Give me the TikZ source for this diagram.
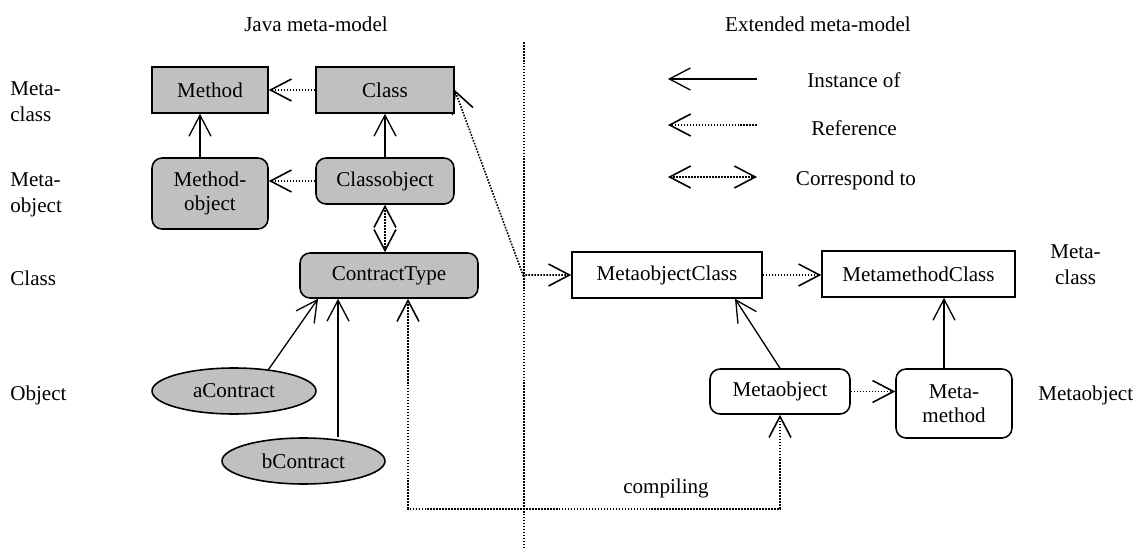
\documentclass[tikz,border=0pt]{standalone}
\usepackage{fontspec}
\setmainfont{Liberation Serif}
\usepackage{tikz}
\usetikzlibrary{arrows.meta,backgrounds,positioning,shapes.geometric}
\definecolor{boxgray}{RGB}{192,192,192}
\tikzset{%
	javabox/.style   = {draw, rectangle, fill=boxgray, line width=0.9pt, minimum height=0.92cm, inner sep=0pt, align=center},
	javaround/.style = {javabox, rounded corners=0.2cm},
	javaobj/.style   = {draw, ellipse, fill=boxgray, line width=0.9pt, minimum width=3.28cm, minimum height=0.92cm, inner sep=0pt},
	extbox/.style    = {draw, rectangle, fill=white, line width=0.9pt, minimum height=0.92cm, inner sep=0pt, align=center},
	extround/.style  = {extbox, rounded corners=0.2cm},
	rowlabel/.style  = {anchor=west, align=left, inner sep=0pt, font=\fontsize{12pt}{15pt}\selectfont},
	instof/.style    = {line width=0.75pt, ->, >={Straight Barb[length=4.2mm,width=4.4mm]}},
	refer/.style     = {instof, line width=0.9pt, dash pattern=on 0.9pt off 0.8pt},
	corresp/.style   = {refer, <->},
}

\begin{document}
\begin{tikzpicture}[x=0.02cm,y=-0.02cm,font=\fontsize{12pt}{14pt}\selectfont]
	\useasboundingbox (0,0) rectangle (1134,548);
	% titles and levels
	\node (javatitle) at (316,24) {Java meta-model};
	\node (exttitle) at (818,24) {Extended meta-model};
	\node[rowlabel] (lmc) at (10,102) {Meta-\\class};
	\node[rowlabel] (lmo) at (10,195) {Meta-\\object};
	\node[rowlabel] (lcl) at (10,278) {Class};
	\node[rowlabel] (lob) at (10,395) {Object};
	\node[rowlabel, align=center] (rmc) at (1050,265) {Meta-\\class};
	\node[rowlabel] (rmo) at (1038,395) {Metaobject};
	% java side
	\node[javabox, minimum width=2.32cm] (method) at (210,90) {Method};
	\node[javabox, minimum width=2.76cm] (cls) at (385,90) {Class};
	\node[javaround, minimum width=2.32cm, minimum height=1.42cm] (mobj) at (210,193.5) {Method-\\object};
	\node[javaround, minimum width=2.76cm] (cobj) at (385,181) {Classobject};
	\node[javaround, minimum width=3.56cm, minimum height=0.9cm] (ctype) at (389,275.5) {ContractType};
	\node[javaobj] (acon) at (234,391) {aContract};
	\node[javaobj, minimum width=3.26cm] (bcon) at (303.5,461) {bContract};
	% extended side
	\node[extbox, minimum width=3.8cm] (moc) at (667,275) {MetaobjectClass};
	\node[extbox, minimum width=3.86cm] (mmc) at (918.5,274) {MetamethodClass};
	\node[extround, minimum width=2.8cm, minimum height=0.9cm] (mo) at (780,391.5) {Metaobject};
	\node[extround, minimum width=2.32cm, minimum height=1.38cm] (mm) at (954,403.5) {Meta-\\method};
	\node (comp) at (666,488) {compiling};
	% legend
	\coordinate (insta) at (668,79);
	\coordinate (instb) at (757,79);
	\coordinate (refa) at (668,125);
	\coordinate (refb) at (757,125);
	\coordinate (cora) at (668,177);
	\coordinate (corb) at (757,177);
	\node (linst) at (854,80) {Instance of};
	\node (lref) at (854,128) {Reference};
	\node (lcor) at (856,180) {Correspond to};
	\draw[instof] (instb) -- (insta);
	\draw[refer] (refb) -- (refa);
	\draw[corresp] (cora) -- (corb);
	% separator
	\coordinate (septop) at (524,42);
	\coordinate (sepbot) at (524,548);
	\draw[line width=0.9pt, dash pattern=on 0.9pt off 0.8pt] (septop) -- (sepbot);
	% connectors
	\coordinate (atip) at ([xshift=-1.42cm]ctype.south);
	\coordinate (btip) at ([xshift=-1.02cm]ctype.south);
	\coordinate (ctip) at ([xshift=0.38cm]ctype.south);
	\coordinate (bend) at (523,275);
	\begin{scope}[on background layer]
		\draw[instof] ([xshift=-0.2cm]mobj.north) -- ([xshift=-0.2cm]method.south);
		\draw[instof] (cobj) -- (cls);
		\draw[refer] (cls) -- (method);
		\draw[refer] (cobj.west) -- (cobj.west -| mobj.east);
		\draw[corresp] (cobj.south) -- (cobj.south |- ctype.north);
		\draw[instof] (acon.32) -- (atip);
		\draw[instof] (btip |- bcon.north) -- (btip);
		\draw[corresp] (ctip) -- ++(0,210) -| (mo.south);
		\draw[corresp] (cls.east) -- (bend) -- (moc.west);
		\draw[refer] (moc.east) -- (moc.east -| mmc.west);
		\draw[instof] (mo.north) -- ([xshift=1.36cm]moc.south);
		\draw[refer] (mo.east) -- (mo.east -| mm.west);
		\draw[instof] ([xshift=-0.2cm]mm.north) -- ([xshift=-0.2cm]mm.north |- mmc.south);
	\end{scope}
\end{tikzpicture}
\end{document}
